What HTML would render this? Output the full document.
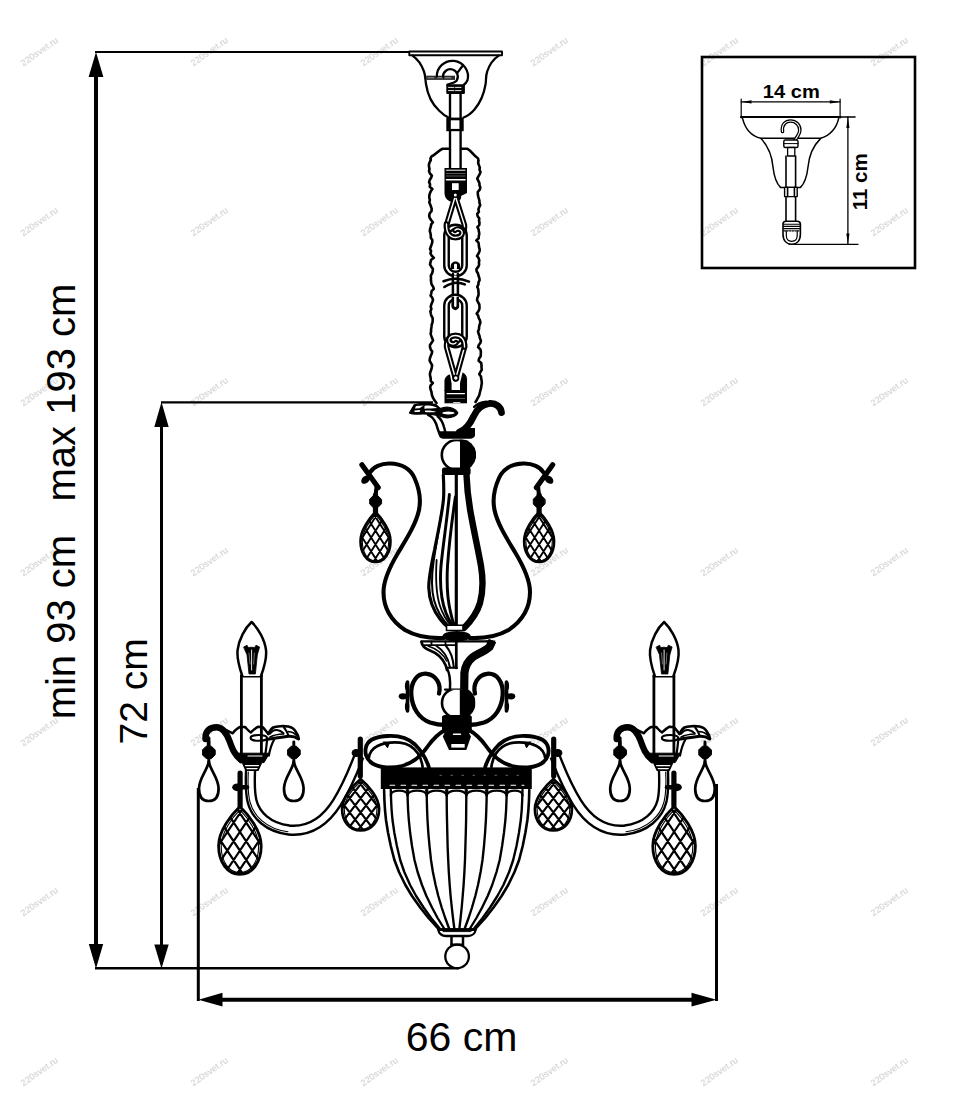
<!DOCTYPE html>
<html><head><meta charset="utf-8">
<style>
html,body{margin:0;padding:0;background:#fff;}
body{width:959px;height:1101px;overflow:hidden;font-family:"Liberation Sans",sans-serif;}
svg{display:block;}
text{font-family:"Liberation Sans",sans-serif;}
</style></head><body>
<svg width="959" height="1101" viewBox="0 0 959 1101">
<rect width="959" height="1101" fill="#fff"/>
<defs>
<g id="wm"><text x="0" y="0" font-size="9" letter-spacing="0.15" fill="#cdcdcd" text-anchor="middle" transform="rotate(-35)">220svet.ru</text></g>
</defs>
<!--WATERMARKS-->
<g id="wms"><use href="#wm" x="41" y="54"/><use href="#wm" x="211" y="54"/><use href="#wm" x="381" y="54"/><use href="#wm" x="551" y="54"/><use href="#wm" x="721" y="54"/><use href="#wm" x="891" y="54"/><use href="#wm" x="41" y="224"/><use href="#wm" x="211" y="224"/><use href="#wm" x="381" y="224"/><use href="#wm" x="551" y="224"/><use href="#wm" x="721" y="224"/><use href="#wm" x="891" y="224"/><use href="#wm" x="41" y="394"/><use href="#wm" x="211" y="394"/><use href="#wm" x="381" y="394"/><use href="#wm" x="551" y="394"/><use href="#wm" x="721" y="394"/><use href="#wm" x="891" y="394"/><use href="#wm" x="41" y="564"/><use href="#wm" x="211" y="564"/><use href="#wm" x="381" y="564"/><use href="#wm" x="551" y="564"/><use href="#wm" x="721" y="564"/><use href="#wm" x="891" y="564"/><use href="#wm" x="41" y="734"/><use href="#wm" x="211" y="734"/><use href="#wm" x="381" y="734"/><use href="#wm" x="551" y="734"/><use href="#wm" x="721" y="734"/><use href="#wm" x="891" y="734"/><use href="#wm" x="41" y="904"/><use href="#wm" x="211" y="904"/><use href="#wm" x="381" y="904"/><use href="#wm" x="551" y="904"/><use href="#wm" x="721" y="904"/><use href="#wm" x="891" y="904"/><use href="#wm" x="41" y="1074"/><use href="#wm" x="211" y="1074"/><use href="#wm" x="381" y="1074"/><use href="#wm" x="551" y="1074"/><use href="#wm" x="721" y="1074"/><use href="#wm" x="891" y="1074"/></g>
<!--DIMENSIONS-->
<g id="dims" stroke="#000" fill="none">
<line x1="95" y1="52" x2="410" y2="52" stroke-width="2.1"/>
<line x1="161" y1="402.3" x2="433" y2="402.3" stroke-width="2.3"/>
<line x1="95" y1="968.3" x2="459" y2="968.3" stroke-width="2.6"/>
<line x1="96" y1="70" x2="96" y2="950" stroke-width="4"/>
<line x1="161.5" y1="420" x2="161.5" y2="950" stroke-width="3"/>
<line x1="198.3" y1="788" x2="198.3" y2="1001" stroke-width="3"/>
<line x1="716.5" y1="784" x2="716.5" y2="1001" stroke-width="3"/>
<line x1="215" y1="999.7" x2="700" y2="999.7" stroke-width="4"/>
<g fill="#000" stroke="none">
<polygon points="96,52 88.6,77 103.4,77"/>
<polygon points="96,968.5 88.8,944 103.2,944"/>
<polygon points="161.5,402 154.3,427 168.7,427"/>
<polygon points="161.5,968.5 154.3,944.5 168.7,944.5"/>
<polygon points="198.5,999.7 222.5,992.8 222.5,1006.6"/>
<polygon points="716.5,999.7 691.5,992.8 691.5,1006.6"/>
</g>
</g>
<g id="labels" fill="#000">
<text x="461.5" y="1050.5" font-size="41" text-anchor="middle">66 cm</text>
<text transform="translate(75,501.5) rotate(-90)" font-size="40" text-anchor="middle" xml:space="preserve">min 93 cm   max 193 cm</text>
<text transform="translate(146.7,691.3) rotate(-90)" font-size="39" text-anchor="middle">72 cm</text>
</g>
<!--INSET-->
<g id="inset" stroke="#000" fill="none" stroke-linecap="round" stroke-linejoin="round">
<rect x="702" y="57" width="213" height="211" stroke-width="2.6" stroke-linejoin="miter"/>
<!-- 14cm dim -->
<line x1="741.2" y1="101.9" x2="840.1" y2="101.9" stroke-width="1.3"/>
<line x1="741.2" y1="99" x2="741.2" y2="118" stroke-width="1.2"/>
<line x1="840.1" y1="99" x2="840.1" y2="118" stroke-width="1.2"/>
<polygon points="741.5,101.9 751.5,100.3 751.5,103.5" fill="#000" stroke="none"/>
<polygon points="839.8,101.9 829.8,100.3 829.8,103.5" fill="#000" stroke="none"/>
<!-- 11cm dim -->
<line x1="820" y1="117" x2="855" y2="117" stroke-width="1.6"/>
<line x1="789" y1="244.3" x2="858" y2="244.3" stroke-width="1.3"/>
<line x1="847.9" y1="117" x2="847.9" y2="244.3" stroke-width="1.3"/>
<polygon points="847.9,117.5 846.3,128 849.5,128" fill="#000" stroke="none"/>
<polygon points="847.9,244 846.3,233.5 849.5,233.5" fill="#000" stroke="none"/>
<!-- canopy -->
<line x1="741" y1="117" x2="840.3" y2="117" stroke-width="2.2"/>
<path d="M742.6,118.6 C745,128 751,136 761,138.3 L820.5,138.3 C830,136 836.5,128 838.6,118.6" stroke-width="1.5"/>
<path d="M761,138.6 C768,146 772,156 773,167 C774,176 776,183 780.5,187.4 L800.5,187.4 C805,183 807,176 808,167 C809,156 813,146 820.5,138.6" stroke-width="1.5"/>
<!-- hook -->
<path d="M782.5,131.5 C781.5,124 786,121 790.5,121 C796,121 799.8,125 799.8,130 C799.8,134 797,137 795,140" stroke-width="3.6"/>
<path d="M782.5,131.5 C781.5,124 786,121 790.5,121 C796,121 799.8,125 799.8,130 C799.8,134 797,137 795,140" stroke="#fff" stroke-width="1.1"/>
<!-- rod -->
<rect x="783.8" y="140" width="14.2" height="7.5" rx="1.5" stroke-width="1.4" fill="#fff"/>
<line x1="783.8" y1="143.6" x2="798" y2="143.6" stroke-width="1"/>
<rect x="787.6" y="147.5" width="7.2" height="8.5" stroke-width="1.3" fill="#fff"/>
<path d="M786,156 L786,222 M795.6,156 L795.6,222" stroke-width="1.6"/>
<rect x="784.6" y="187.4" width="12.6" height="9.2" stroke-width="1.4" fill="#fff"/>
<line x1="787.6" y1="187.4" x2="787.6" y2="196.6" stroke-width="1.6"/>
<line x1="794.4" y1="187.4" x2="794.4" y2="196.6" stroke-width="1.6"/>
<!-- bottom loop -->
<path d="M783,224 C783,222 784,221.3 786,221.3 L797,221.3 C799,221.3 800.4,222 800.4,224 L800.4,234 C800.4,241 796.5,244.3 791.7,244.3 C787,244.3 783,241 783,234 Z" stroke-width="1.6" fill="#fff"/>
<path d="M786.3,231 L786.3,235.5 C786.3,239.5 788.5,241.3 791.7,241.3 C795,241.3 797.2,239.5 797.2,235.5 L797.2,231" stroke-width="1.2"/>
<path d="M783.5,224.2 H800 M783.5,226.4 H800 M783.5,228.6 H800" stroke-width="1.1"/>
<path d="M784,230.8 H800" stroke-width="1.2" stroke-dasharray="1.5 1.2"/>
<g fill="#000" stroke="none" font-weight="bold">
<text x="791.3" y="98" font-size="18" text-anchor="middle" textLength="57" lengthAdjust="spacingAndGlyphs">14 cm</text>
<text transform="translate(867.2,181.8) rotate(-90)" font-size="20.5" text-anchor="middle">11 cm</text>
</g>
</g>
<!--CHANDELIER-->
<g id="ch" stroke="#000" fill="none" stroke-width="2" stroke-linecap="round" stroke-linejoin="round">
<rect x="409.3" y="51.5" width="92.7" height="3.7" rx="0" stroke="#000" stroke-width="1.9" fill="#fff"/>
<path d="M412.5,55.6 C416,58 421,63 424,71.5 C425.6,76 425.3,80 426,84 C427.5,94 432,104 439,110.5 C442,113.5 445,116 448.5,117.5" stroke="#000" stroke-width="2.26" fill="none" />
<path d="M498.8,55.6 C495,58 490,63 487.2,71.5 C485.6,76 486.3,80 485.6,84 C484,94 480,103 474.5,109.5 C471.5,113 468,116 463.5,117.5" stroke="#000" stroke-width="2.26" fill="none" />
<path d="M426.2,77.8 H455" stroke="#2a2a2a" stroke-width="4.2" fill="none" stroke-linecap="butt"/>
<path d="M428,77.8 H452" stroke="#aaa" stroke-width="0.9" fill="none" stroke-dasharray="6 2.5"/>
<path d="M436.8,76.8 A15.6,15.6 0 1 1 467.5,80.3 C466.5,82.6 465,84 463.5,85" stroke="#000" stroke-width="2.26" fill="none" />
<path d="M443,76.8 A7.4,7.4 0 1 1 456.5,80.8 C454,83 450,83.6 447.5,84.6" stroke="#000" stroke-width="2.26" fill="none" />
<path d="M457.5,72.6 L462.5,66" stroke="#000" stroke-width="2.26" fill="none" />
<rect x="446.3" y="84.2" width="18.6" height="9.8" rx="1" stroke="none" stroke-width="0" fill="#000"/>
<path d="M448.5,87.4 H462.5 M448.5,90.6 H462.5" stroke="#fff" stroke-width="0.9" fill="none" stroke-dasharray="5.5 1.5"/>
<path d="M450,93 V168 M460.6,93 V168" stroke="#000" stroke-width="2.37" fill="none" />
<rect x="446.3" y="117.6" width="17.4" height="13.6" rx="0" stroke="none" stroke-width="0" fill="#000"/>
<rect x="450.8" y="120.3" width="8.6" height="8.6" rx="0" stroke="none" stroke-width="0" fill="#fff"/>
<path d="M449,148.8 H442.5 C438.5,150.5 436.5,154 431.5,156.5 C430.3,157.5 430.4,158.5 430.8,160" stroke="#000" stroke-width="2.6" fill="none" />
<path d="M462,148.8 H467.5 C471.5,151 473.5,155.5 477.6,158 C478.6,158.8 478.6,159.6 478.3,161" stroke="#000" stroke-width="2.6" fill="none" />
<path d="M430.8,160.0 L429.7,162.2 L428.9,164.4 L429.0,166.7 L429.5,168.9 L429.0,171.1 L429.9,173.3 L431.9,175.6 L431.1,177.8 L429.7,180.0 L429.1,182.2 L430.1,184.4 L429.7,186.7 L432.4,188.9 L430.9,191.1 L429.9,193.3 L429.3,195.6 L429.3,197.8 L429.9,200.0 L429.3,202.2 L430.2,204.4 L431.0,206.7 L431.7,208.9 L431.5,211.1 L429.7,213.3 L429.2,215.6 L429.6,217.8 L431.1,220.0 L432.9,222.2 L431.2,224.4 L430.8,226.7 L430.1,228.9 L429.8,231.1 L430.5,233.3 L430.8,235.6 L430.8,237.8 L432.3,240.0 L432.3,242.2 L431.6,244.4 L430.8,246.7 L430.0,248.9 L431.1,251.1 L430.4,253.3 L431.7,255.6 L433.9,257.8 L431.0,260.0 L430.6,262.2 L430.0,264.4 L431.4,266.7 L432.9,268.9 L432.7,271.1 L432.1,273.3 L430.8,275.6 L431.0,277.8 L430.9,280.0 L431.2,282.2 L431.6,284.4 L433.1,286.7 L433.8,288.9 L431.6,291.1 L431.3,293.3 L430.6,295.6 L432.3,297.8 L433.0,300.0 L432.2,302.2 L431.3,304.5 L430.7,306.7 L431.4,309.0 L430.4,311.2 L430.8,313.5 L431.3,315.7 L432.6,318.0 L432.7,320.2 L432.5,322.4 L431.7,324.7 L431.5,326.9 L431.1,329.2 L431.1,331.4 L430.6,333.7 L431.3,335.9 L432.1,338.1 L433.1,340.4 L431.7,342.6 L430.0,344.9 L430.0,347.1 L430.7,349.4 L432.2,351.6 L431.6,353.9 L430.7,356.1 L429.9,358.3 L429.6,360.6 L430.8,362.8 L432.1,365.1 L431.8,367.3 L431.3,369.6 L430.4,371.8 L429.9,374.0 L430.2,376.3 L430.7,378.5 L430.7,380.8 L432.8,383.0 L430.6,385.3 L430.2,387.5 L430.7,389.8 L431.5,392.0 C431.5,397 434,400 436.5,403" stroke="#000" stroke-width="2.6" fill="none" />
<path d="M478.3,161.0 L478.2,163.2 L479.0,165.4 L479.8,167.6 L479.5,169.8 L480.5,172.0 L479.7,174.2 L478.4,176.4 L477.2,178.7 L478.4,180.9 L479.4,183.1 L479.5,185.3 L480.3,187.5 L479.8,189.7 L477.8,191.9 L477.8,194.1 L478.2,196.3 L478.8,198.5 L479.4,200.7 L479.5,202.9 L480.2,205.1 L479.1,207.3 L478.4,209.5 L478.9,211.7 L477.2,214.0 L477.7,216.2 L479.3,218.4 L479.0,220.6 L479.5,222.8 L479.3,225.0 L477.4,227.2 L478.6,229.4 L478.9,231.6 L479.3,233.8 L478.8,236.0 L478.7,238.2 L476.3,240.4 L478.5,242.6 L478.8,244.8 L479.0,247.0 L479.7,249.3 L479.5,251.5 L478.4,253.7 L477.0,255.9 L478.6,258.1 L479.3,260.3 L478.9,262.5 L479.1,264.7 L478.2,266.9 L476.5,269.1 L476.6,271.3 L478.0,273.5 L478.5,275.7 L479.3,277.9 L479.6,280.1 L478.5,282.3 L478.4,284.6 L477.2,286.8 L478.2,289.0 L478.4,291.2 L478.6,293.4 L478.4,295.6 L477.5,297.8 L477.0,300.0 L478.0,302.2 L479.3,304.5 L479.5,306.8 L479.4,309.0 L478.4,311.2 L476.7,313.5 L478.2,315.8 L478.7,318.0 L479.9,320.2 L480.4,322.5 L479.6,324.8 L479.1,327.0 L479.0,329.2 L478.0,331.5 L478.7,333.8 L479.5,336.0 L479.9,338.2 L480.9,340.5 L480.5,342.8 L478.8,345.0 L478.1,347.2 L480.4,349.5 L480.9,351.8 L480.8,354.0 L480.7,356.2 L479.1,358.5 L478.6,360.8 L481.2,363.0 L481.5,365.2 L481.5,367.5 L481.8,369.8 L480.4,372.0 L479.3,374.2 L481.0,376.5 L481.2,378.8 L481.7,381.0 L481.8,383.2 L481.4,385.5 L481.1,387.8 L480.5,390.0 C480,396 477.5,399 475.5,402" stroke="#000" stroke-width="2.6" fill="none" />
<rect x="444.5" y="168" width="22.5" height="14" rx="0" stroke="none" stroke-width="0" fill="#000"/>
<path d="M446.5,170.2 H465" stroke="#fff" stroke-width="1" fill="none" />
<path d="M446.5,173.5 H465 M446.5,176 H465" stroke="#777" stroke-width="0.7" fill="none" />
<path d="M446.5,179.8 H465" stroke="#fff" stroke-width="1.6" fill="none" />
<path d="M444.5,182 V193 C444.5,199 449,202 454,202 C459,202 462,199 461,196 L467,193 V182 Z" stroke="none" stroke-width="0" fill="#000" />
<rect x="452" y="183.2" width="6.7" height="6.8" rx="0" stroke="none" stroke-width="0" fill="#fff"/>
<path d="M455.3,196 L446.6,225 C446,233 450,237.5 455.5,237.5 C461,237.5 465,233 464.4,225 Z" stroke="#000" stroke-width="5.6" fill="none" stroke-linejoin="round"/>
<path d="M455.3,196 L446.6,225 C446,233 450,237.5 455.5,237.5 C461,237.5 465,233 464.4,225 Z" stroke="#fff" stroke-width="1.4" fill="none" />
<circle cx="455.3" cy="195" r="2.2" stroke="#000" stroke-width="1.4" fill="#fff"/>
<path d="M446.5,235.5 A9.0,8.5 0 0 1 464.5,235.5 V265.5 A9.0,8.5 0 0 1 446.5,265.5 Z" stroke="#000" stroke-width="6.9" fill="none" />
<path d="M446.5,235.5 A9.0,8.5 0 0 1 464.5,235.5 V265.5 A9.0,8.5 0 0 1 446.5,265.5 Z" stroke="#fff" stroke-width="2.1" fill="none" />
<path d="M446.5,224 C446.2,233 450,237.5 455.5,237.5 C460.5,237.5 463,234.5 462,231.5 C461,228.8 457,228.3 455,230.2" stroke="#000" stroke-width="5.6" fill="none" />
<path d="M446.5,224 C446.2,233 450,237.5 455.5,237.5 C460.5,237.5 463,234.5 462,231.5 C461,228.8 457,228.3 455,230.2" stroke="#fff" stroke-width="1.4" fill="none" />
<path d="M450.8,269 V266 C450.8,260 460.2,260 460.2,266 V269 Z" stroke="none" stroke-width="0" fill="#000" />
<rect x="454" y="263.8" width="3" height="5.4" rx="1.2" stroke="none" stroke-width="0" fill="#fff"/>
<path d="M452.9,274 V307 M457.9,274 V307" stroke="#000" stroke-width="2.49" fill="none" />
<rect x="454" y="275.6" width="2.6" height="2" rx="0" stroke="none" stroke-width="0" fill="#fff"/>
<path d="M443.5,281.2 Q456,276 469,281.6" stroke="#000" stroke-width="2.6" fill="none" />
<path d="M444.4,287 Q455,280 464.8,284.4" stroke="#000" stroke-width="2.6" fill="none" />
<path d="M446.5,305.5 A9.0,8.5 0 0 1 464.5,305.5 V336.5 A9.0,8.5 0 0 1 446.5,336.5 Z" stroke="#000" stroke-width="6.9" fill="none" />
<path d="M446.5,305.5 A9.0,8.5 0 0 1 464.5,305.5 V336.5 A9.0,8.5 0 0 1 446.5,336.5 Z" stroke="#fff" stroke-width="2.1" fill="none" />
<path d="M451.6,297 V306 C451.6,311.5 459,311.5 459,306 V297" stroke="none" stroke-width="0" fill="#000" />
<rect x="454.1" y="296" width="2.4" height="11" rx="1.2" stroke="none" stroke-width="0" fill="#fff"/>
<path d="M455.6,379 L446.6,347 C446,339.5 450,335.5 455.5,335.5 C461,335.5 465,339.5 464.5,347 Z" stroke="#000" stroke-width="5.6" fill="none" stroke-linejoin="round"/>
<path d="M455.6,379 L446.6,347 C446,339.5 450,335.5 455.5,335.5 C461,335.5 465,339.5 464.5,347 Z" stroke="#fff" stroke-width="1.4" fill="none" />
<path d="M464.5,347 C464.8,339.5 461,335.5 455.5,335.5 C450.5,335.5 448,338.5 449,341.5 C450,344.2 454,344.7 456,342.8" stroke="#000" stroke-width="5.6" fill="none" />
<path d="M464.5,347 C464.8,339.5 461,335.5 455.5,335.5 C450.5,335.5 448,338.5 449,341.5 C450,344.2 454,344.7 456,342.8" stroke="#fff" stroke-width="1.4" fill="none" />
<circle cx="455.8" cy="378" r="2.6" stroke="#000" stroke-width="1.8" fill="#fff"/>
<path d="M444.5,390 V380 L449,374 M467,390 V378 L463,372" stroke="#000" stroke-width="0.1" fill="none" />
<path d="M444.5,391 V381 C444.5,378 447,375 450,374.5 L451.5,383 H460 L462.5,372.5 C465,373.5 467,376 467,379 V391 Z" stroke="none" stroke-width="0" fill="#000" />
<rect x="451.6" y="383" width="8.4" height="7.5" rx="0" stroke="none" stroke-width="0" fill="#fff"/>
<rect x="444.5" y="390" width="22.5" height="13.3" rx="0" stroke="none" stroke-width="0" fill="#000"/>
<path d="M447,393.6 H464.5" stroke="#fff" stroke-width="1.1" fill="none" />
<path d="M447,398.5 H464.5" stroke="#777" stroke-width="0.7" fill="none" />
<path d="M453.5,402.6 H460" stroke="#fff" stroke-width="0.9" fill="none" />
<path d="M375.5,495 V513" stroke="#000" stroke-width="5.2" fill="none" />
<polygon points="381.3,504.0 377.9,507.4 373.1,507.4 369.7,504.0 369.7,499.2 373.1,495.8 377.9,495.8 381.3,499.2" fill="#000" stroke="#000" stroke-width="1" stroke-linejoin="round"/>
<clipPath id="fd1"><path d="M375.5,512.0 C381.5,518.0 390.5,530.0 390.5,541.0 C390.5,553.0 384.5,562.0 375.5,562.0 C366.5,562.0 360.5,553.0 360.5,541.0 C360.5,530.0 369.5,518.0 375.5,512.0 Z"/></clipPath>
<path d="M375.5,512.0 C381.5,518.0 390.5,530.0 390.5,541.0 C390.5,553.0 384.5,562.0 375.5,562.0 C366.5,562.0 360.5,553.0 360.5,541.0 C360.5,530.0 369.5,518.0 375.5,512.0 Z" stroke="none" stroke-width="0" fill="#fff" />
<g clip-path="url(#fd1)"><path d="M310.6,512.0 L342.5,562.0 M334.6,512.0 L302.6,562.0 M319.4,512.0 L351.4,562.0 M343.4,512.0 L311.4,562.0 M328.2,512.0 L360.2,562.0 M352.2,512.0 L320.2,562.0 M337.0,512.0 L369.0,562.0 M361.0,512.0 L329.0,562.0 M345.9,512.0 L377.8,562.0 M369.8,512.0 L337.9,562.0 M354.7,512.0 L386.7,562.0 M378.7,512.0 L346.7,562.0 M363.5,512.0 L395.5,562.0 M387.5,512.0 L355.5,562.0 M372.3,512.0 L404.3,562.0 M396.3,512.0 L364.3,562.0 M381.2,512.0 L413.1,562.0 M405.1,512.0 L373.2,562.0 M390.0,512.0 L422.0,562.0 M414.0,512.0 L382.0,562.0 M398.8,512.0 L430.8,562.0 M422.8,512.0 L390.8,562.0 M407.6,512.0 L439.6,562.0 M431.6,512.0 L399.6,562.0 M416.4,512.0 L448.4,562.0 M440.4,512.0 L408.5,562.0" stroke="#000" stroke-width="1.9" fill="none"/><path d="M375.5,514.5 C380.8,520.0 388.7,531.1 388.7,541.3 C388.7,552.4 383.4,560.8 375.5,560.8 C367.6,560.8 362.3,552.4 362.3,541.3 C362.3,531.1 370.2,520.0 375.5,514.5 Z" stroke="#000" stroke-width="1.1" fill="none"/></g>
<path d="M375.5,512.0 C381.5,518.0 390.5,530.0 390.5,541.0 C390.5,553.0 384.5,562.0 375.5,562.0 C366.5,562.0 360.5,553.0 360.5,541.0 C360.5,530.0 369.5,518.0 375.5,512.0 Z" stroke="#000" stroke-width="2.6" fill="none" />
<path d="M539.1,495 V513" stroke="#000" stroke-width="5.2" fill="none" />
<polygon points="544.9,504.0 541.5,507.4 536.7,507.4 533.3,504.0 533.3,499.2 536.7,495.8 541.5,495.8 544.9,499.2" fill="#000" stroke="#000" stroke-width="1" stroke-linejoin="round"/>
<clipPath id="fd2"><path d="M539.1,512.0 C545.1,518.0 554.1,530.0 554.1,541.0 C554.1,553.0 548.1,562.0 539.1,562.0 C530.1,562.0 524.1,553.0 524.1,541.0 C524.1,530.0 533.1,518.0 539.1,512.0 Z"/></clipPath>
<path d="M539.1,512.0 C545.1,518.0 554.1,530.0 554.1,541.0 C554.1,553.0 548.1,562.0 539.1,562.0 C530.1,562.0 524.1,553.0 524.1,541.0 C524.1,530.0 533.1,518.0 539.1,512.0 Z" stroke="none" stroke-width="0" fill="#fff" />
<g clip-path="url(#fd2)"><path d="M474.2,512.0 L506.1,562.0 M498.2,512.0 L466.2,562.0 M483.0,512.0 L515.0,562.0 M507.0,512.0 L475.0,562.0 M491.8,512.0 L523.8,562.0 M515.8,512.0 L483.8,562.0 M500.6,512.0 L532.6,562.0 M524.6,512.0 L492.6,562.0 M509.5,512.0 L541.4,562.0 M533.4,512.0 L501.5,562.0 M518.3,512.0 L550.3,562.0 M542.3,512.0 L510.3,562.0 M527.1,512.0 L559.1,562.0 M551.1,512.0 L519.1,562.0 M535.9,512.0 L567.9,562.0 M559.9,512.0 L527.9,562.0 M544.8,512.0 L576.7,562.0 M568.7,512.0 L536.8,562.0 M553.6,512.0 L585.6,562.0 M577.6,512.0 L545.6,562.0 M562.4,512.0 L594.4,562.0 M586.4,512.0 L554.4,562.0 M571.2,512.0 L603.2,562.0 M595.2,512.0 L563.2,562.0 M580.0,512.0 L612.0,562.0 M604.0,512.0 L572.1,562.0" stroke="#000" stroke-width="1.9" fill="none"/><path d="M539.1,514.5 C544.4,520.0 552.3,531.1 552.3,541.3 C552.3,552.4 547.0,560.8 539.1,560.8 C531.2,560.8 525.9,552.4 525.9,541.3 C525.9,531.1 533.8,520.0 539.1,514.5 Z" stroke="#000" stroke-width="1.1" fill="none"/></g>
<path d="M539.1,512.0 C545.1,518.0 554.1,530.0 554.1,541.0 C554.1,553.0 548.1,562.0 539.1,562.0 C530.1,562.0 524.1,553.0 524.1,541.0 C524.1,530.0 533.1,518.0 539.1,512.0 Z" stroke="#000" stroke-width="2.6" fill="none" />
<path d="M 445.0,730 C 438.0,734 433.0,739 428.0,746 C 422.0,755 413.0,763 402.0,766 C 392.0,768.5 380.0,768 372.5,763.5 C 366.0,759.5 364.0,752 366.5,745.5 C 369.0,739.5 377.0,736.5 388.0,736 C 398.0,735.5 408.0,738 415.0,744.5 C 421.0,750.5 426.0,758 428.8,767" stroke="#000" stroke-width="3.84" fill="none" />
<path d="M 368.8,758 C 369.5,752.5 372.5,748.5 377.5,746 C 384.0,742.8 393.0,742 400.0,742.6 C 408.0,743.5 414.0,747.5 418.0,753.5 C 420.5,757.5 422.0,762 422.6,767" stroke="#000" stroke-width="2.71" fill="none" />
<path d="M 383.5,742.2 L 387.5,747.8 L 389.5,742.8 Z" stroke="#000" stroke-width="1" fill="#000" />
<path d="M 469.0,730 C 476.0,734 481.0,739 486.0,746 C 492.0,755 501.0,763 512.0,766 C 522.0,768.5 534.0,768 541.5,763.5 C 548.0,759.5 550.0,752 547.5,745.5 C 545.0,739.5 537.0,736.5 526.0,736 C 516.0,735.5 506.0,738 499.0,744.5 C 493.0,750.5 488.0,758 485.2,767" stroke="#000" stroke-width="3.84" fill="none" />
<path d="M 545.2,758 C 544.5,752.5 541.5,748.5 536.5,746 C 530.0,742.8 521.0,742 514.0,742.6 C 506.0,743.5 500.0,747.5 496.0,753.5 C 493.5,757.5 492.0,762 491.4,767" stroke="#000" stroke-width="2.71" fill="none" />
<path d="M 530.5,742.2 L 526.5,747.8 L 524.5,742.8 Z" stroke="#000" stroke-width="1" fill="#000" />
<path d="M 250.6,769 C 250.2,780 249.5,790 252.0,801 C 255.5,815 268.0,827.5 289.0,830 C 310.0,832 326.0,820 337.0,802.5 C 346.0,788 352.5,773 359.0,756" stroke="#000" stroke-width="11.4" fill="none" stroke-linecap="butt"/>
<path d="M 250.6,769 C 250.2,780 249.5,790 252.0,801 C 255.5,815 268.0,827.5 289.0,830 C 310.0,832 326.0,820 337.0,802.5 C 346.0,788 352.5,773 359.0,756" stroke="#fff" stroke-width="6.6" fill="none" stroke-linecap="butt"/>
<path d="M 248.3,772 C 247.8,782 247.5,792 250.0,802 C 253.5,815.5 266.0,829 288.0,831.8" stroke="#000" stroke-width="1.1" fill="none" />
<path d="M 240.1,773 V 806" stroke="#000" stroke-width="5.2" fill="none" />
<ellipse cx="237.4" cy="787.3" rx="5.2" ry="3.9" stroke="none" stroke-width="0" fill="#000" />
<path d="M 236.9,787.3 H 247.0" stroke="#000" stroke-width="4.52" fill="none" />
<polygon points="243.2,812.9 241.3,814.8 238.5,814.8 236.6,812.9 236.6,810.1 238.5,808.2 241.3,808.2 243.2,810.1" fill="#000" stroke="#000" stroke-width="1" stroke-linejoin="round"/>
<clipPath id="fd3"><path d="M239.9,806.5 C248.4,814.6 261.2,830.9 261.2,845.8 C261.2,862.1 252.7,874.3 239.9,874.3 C227.1,874.3 218.6,862.1 218.6,845.8 C218.6,830.9 231.4,814.6 239.9,806.5 Z"/></clipPath>
<path d="M239.9,806.5 C248.4,814.6 261.2,830.9 261.2,845.8 C261.2,862.1 252.7,874.3 239.9,874.3 C227.1,874.3 218.6,862.1 218.6,845.8 C218.6,830.9 231.4,814.6 239.9,806.5 Z" stroke="none" stroke-width="0" fill="#fff" />
<g clip-path="url(#fd3)"><path d="M147.7,806.5 L193.1,874.3 M181.8,806.5 L136.3,874.3 M160.2,806.5 L205.6,874.3 M194.3,806.5 L148.9,874.3 M172.8,806.5 L218.2,874.3 M206.8,806.5 L161.4,874.3 M185.3,806.5 L230.7,874.3 M219.3,806.5 L173.9,874.3 M197.8,806.5 L243.2,874.3 M231.9,806.5 L186.5,874.3 M210.3,806.5 L255.8,874.3 M244.4,806.5 L199.0,874.3 M222.9,806.5 L268.3,874.3 M256.9,806.5 L211.5,874.3 M235.4,806.5 L280.8,874.3 M269.5,806.5 L224.0,874.3 M247.9,806.5 L293.3,874.3 M282.0,806.5 L236.6,874.3 M260.5,806.5 L305.9,874.3 M294.5,806.5 L249.1,874.3 M273.0,806.5 L318.4,874.3 M307.0,806.5 L261.6,874.3 M285.5,806.5 L330.9,874.3 M319.6,806.5 L274.2,874.3 M298.0,806.5 L343.5,874.3 M332.1,806.5 L286.7,874.3" stroke="#000" stroke-width="2.2" fill="none"/><path d="M239.9,809.9 C247.4,817.4 258.6,832.5 258.6,846.3 C258.6,861.3 251.1,872.6 239.9,872.6 C228.7,872.6 221.2,861.3 221.2,846.3 C221.2,832.5 232.4,817.4 239.9,809.9 Z" stroke="#000" stroke-width="1.1" fill="none"/></g>
<path d="M239.9,806.5 C248.4,814.6 261.2,830.9 261.2,845.8 C261.2,862.1 252.7,874.3 239.9,874.3 C227.1,874.3 218.6,862.1 218.6,845.8 C218.6,830.9 231.4,814.6 239.9,806.5 Z" stroke="#000" stroke-width="2.82" fill="none" />
<path d="M 360.3,739 V 776" stroke="#000" stroke-width="5.2" fill="none" />
<ellipse cx="356.2" cy="753" rx="4.6" ry="4" stroke="none" stroke-width="0" fill="#000" />
<clipPath id="fd4"><path d="M360.6,779.0 C368.0,785.2 379.1,797.5 379.1,808.9 C379.1,821.2 371.7,830.5 360.6,830.5 C349.5,830.5 342.1,821.2 342.1,808.9 C342.1,797.5 353.2,785.2 360.6,779.0 Z"/></clipPath>
<path d="M360.6,779.0 C368.0,785.2 379.1,797.5 379.1,808.9 C379.1,821.2 371.7,830.5 360.6,830.5 C349.5,830.5 342.1,821.2 342.1,808.9 C342.1,797.5 353.2,785.2 360.6,779.0 Z" stroke="none" stroke-width="0" fill="#fff" />
<g clip-path="url(#fd4)"><path d="M280.5,779.0 L320.0,830.5 M310.1,779.0 L270.7,830.5 M291.4,779.0 L330.8,830.5 M321.0,779.0 L281.5,830.5 M302.3,779.0 L341.7,830.5 M331.9,779.0 L292.4,830.5 M313.2,779.0 L352.6,830.5 M342.7,779.0 L303.3,830.5 M324.0,779.0 L363.5,830.5 M353.6,779.0 L314.2,830.5 M334.9,779.0 L374.4,830.5 M364.5,779.0 L325.1,830.5 M345.8,779.0 L385.3,830.5 M375.4,779.0 L335.9,830.5 M356.7,779.0 L396.1,830.5 M386.3,779.0 L346.8,830.5 M367.6,779.0 L407.0,830.5 M397.2,779.0 L357.7,830.5 M378.5,779.0 L417.9,830.5 M408.0,779.0 L368.6,830.5 M389.3,779.0 L428.8,830.5 M418.9,779.0 L379.5,830.5 M400.2,779.0 L439.7,830.5 M429.8,779.0 L390.4,830.5 M411.1,779.0 L450.5,830.5 M440.7,779.0 L401.2,830.5" stroke="#000" stroke-width="2.1" fill="none"/><path d="M360.6,781.6 C367.1,787.3 376.9,798.7 376.9,809.2 C376.9,820.6 370.4,829.2 360.6,829.2 C350.8,829.2 344.3,820.6 344.3,809.2 C344.3,798.7 354.1,787.3 360.6,781.6 Z" stroke="#000" stroke-width="1.1" fill="none"/></g>
<path d="M360.6,779.0 C368.0,785.2 379.1,797.5 379.1,808.9 C379.1,821.2 371.7,830.5 360.6,830.5 C349.5,830.5 342.1,821.2 342.1,808.9 C342.1,797.5 353.2,785.2 360.6,779.0 Z" stroke="#000" stroke-width="2.71" fill="none" />
<path d="M 663.4,769 C 663.8,780 664.5,790 662.0,801 C 658.5,815 646.0,827.5 625.0,830 C 604.0,832 588.0,820 577.0,802.5 C 568.0,788 561.5,773 555.0,756" stroke="#000" stroke-width="11.4" fill="none" stroke-linecap="butt"/>
<path d="M 663.4,769 C 663.8,780 664.5,790 662.0,801 C 658.5,815 646.0,827.5 625.0,830 C 604.0,832 588.0,820 577.0,802.5 C 568.0,788 561.5,773 555.0,756" stroke="#fff" stroke-width="6.6" fill="none" stroke-linecap="butt"/>
<path d="M 665.7,772 C 666.2,782 666.5,792 664.0,802 C 660.5,815.5 648.0,829 626.0,831.8" stroke="#000" stroke-width="1.1" fill="none" />
<path d="M 673.9,773 V 806" stroke="#000" stroke-width="5.2" fill="none" />
<ellipse cx="676.6" cy="787.3" rx="5.2" ry="3.9" stroke="none" stroke-width="0" fill="#000" />
<path d="M 677.1,787.3 H 667.0" stroke="#000" stroke-width="4.52" fill="none" />
<polygon points="677.4,812.9 675.5,814.8 672.7,814.8 670.8,812.9 670.8,810.1 672.7,808.2 675.5,808.2 677.4,810.1" fill="#000" stroke="#000" stroke-width="1" stroke-linejoin="round"/>
<clipPath id="fd5"><path d="M674.1,806.5 C682.6,814.6 695.4,830.9 695.4,845.8 C695.4,862.1 686.9,874.3 674.1,874.3 C661.3,874.3 652.8,862.1 652.8,845.8 C652.8,830.9 665.6,814.6 674.1,806.5 Z"/></clipPath>
<path d="M674.1,806.5 C682.6,814.6 695.4,830.9 695.4,845.8 C695.4,862.1 686.9,874.3 674.1,874.3 C661.3,874.3 652.8,862.1 652.8,845.8 C652.8,830.9 665.6,814.6 674.1,806.5 Z" stroke="none" stroke-width="0" fill="#fff" />
<g clip-path="url(#fd5)"><path d="M581.9,806.5 L627.3,874.3 M616.0,806.5 L570.5,874.3 M594.4,806.5 L639.8,874.3 M628.5,806.5 L583.1,874.3 M607.0,806.5 L652.4,874.3 M641.0,806.5 L595.6,874.3 M619.5,806.5 L664.9,874.3 M653.5,806.5 L608.1,874.3 M632.0,806.5 L677.4,874.3 M666.1,806.5 L620.7,874.3 M644.5,806.5 L690.0,874.3 M678.6,806.5 L633.2,874.3 M657.1,806.5 L702.5,874.3 M691.1,806.5 L645.7,874.3 M669.6,806.5 L715.0,874.3 M703.7,806.5 L658.2,874.3 M682.1,806.5 L727.5,874.3 M716.2,806.5 L670.8,874.3 M694.7,806.5 L740.1,874.3 M728.7,806.5 L683.3,874.3 M707.2,806.5 L752.6,874.3 M741.2,806.5 L695.8,874.3 M719.7,806.5 L765.1,874.3 M753.8,806.5 L708.4,874.3 M732.2,806.5 L777.7,874.3 M766.3,806.5 L720.9,874.3" stroke="#000" stroke-width="2.2" fill="none"/><path d="M674.1,809.9 C681.6,817.4 692.8,832.5 692.8,846.3 C692.8,861.3 685.3,872.6 674.1,872.6 C662.9,872.6 655.4,861.3 655.4,846.3 C655.4,832.5 666.6,817.4 674.1,809.9 Z" stroke="#000" stroke-width="1.1" fill="none"/></g>
<path d="M674.1,806.5 C682.6,814.6 695.4,830.9 695.4,845.8 C695.4,862.1 686.9,874.3 674.1,874.3 C661.3,874.3 652.8,862.1 652.8,845.8 C652.8,830.9 665.6,814.6 674.1,806.5 Z" stroke="#000" stroke-width="2.82" fill="none" />
<path d="M 553.7,739 V 776" stroke="#000" stroke-width="5.2" fill="none" />
<ellipse cx="557.8" cy="753" rx="4.6" ry="4" stroke="none" stroke-width="0" fill="#000" />
<clipPath id="fd6"><path d="M553.4,779.0 C560.8,785.2 571.9,797.5 571.9,808.9 C571.9,821.2 564.5,830.5 553.4,830.5 C542.3,830.5 534.9,821.2 534.9,808.9 C534.9,797.5 546.0,785.2 553.4,779.0 Z"/></clipPath>
<path d="M553.4,779.0 C560.8,785.2 571.9,797.5 571.9,808.9 C571.9,821.2 564.5,830.5 553.4,830.5 C542.3,830.5 534.9,821.2 534.9,808.9 C534.9,797.5 546.0,785.2 553.4,779.0 Z" stroke="none" stroke-width="0" fill="#fff" />
<g clip-path="url(#fd6)"><path d="M473.3,779.0 L512.8,830.5 M502.9,779.0 L463.5,830.5 M484.2,779.0 L523.6,830.5 M513.8,779.0 L474.3,830.5 M495.1,779.0 L534.5,830.5 M524.7,779.0 L485.2,830.5 M506.0,779.0 L545.4,830.5 M535.5,779.0 L496.1,830.5 M516.8,779.0 L556.3,830.5 M546.4,779.0 L507.0,830.5 M527.7,779.0 L567.2,830.5 M557.3,779.0 L517.9,830.5 M538.6,779.0 L578.1,830.5 M568.2,779.0 L528.7,830.5 M549.5,779.0 L588.9,830.5 M579.1,779.0 L539.6,830.5 M560.4,779.0 L599.8,830.5 M590.0,779.0 L550.5,830.5 M571.3,779.0 L610.7,830.5 M600.8,779.0 L561.4,830.5 M582.1,779.0 L621.6,830.5 M611.7,779.0 L572.3,830.5 M593.0,779.0 L632.5,830.5 M622.6,779.0 L583.2,830.5 M603.9,779.0 L643.3,830.5 M633.5,779.0 L594.0,830.5" stroke="#000" stroke-width="2.1" fill="none"/><path d="M553.4,781.6 C559.9,787.3 569.7,798.7 569.7,809.2 C569.7,820.6 563.2,829.2 553.4,829.2 C543.6,829.2 537.1,820.6 537.1,809.2 C537.1,798.7 546.9,787.3 553.4,781.6 Z" stroke="#000" stroke-width="1.1" fill="none"/></g>
<path d="M553.4,779.0 C560.8,785.2 571.9,797.5 571.9,808.9 C571.9,821.2 564.5,830.5 553.4,830.5 C542.3,830.5 534.9,821.2 534.9,808.9 C534.9,797.5 546.0,785.2 553.4,779.0 Z" stroke="#000" stroke-width="2.71" fill="none" />
<path d="M 241.4,676 V 756 M 261.4,676 V 756" stroke="#000" stroke-width="2.82" fill="none" />
<path d="M 241.4,676 H 261.4" stroke="#000" stroke-width="2.82" fill="none" />
<path d="M 242.3,676 C 238.5,665 236.8,657 237.6,650 C 238.8,639.5 245.0,628 251.6,622 C 258.0,628 264.8,639.5 266.0,650 C 266.8,657 265.0,665 261.0,676" stroke="#000" stroke-width="2.49" fill="#fff" />
<path d="M 243.8,647 L 247.0,645.2 L 248.2,647.6 L 251.5,647.2 L 254.6,647.6 L 256.0,645.2 L 259.6,647 L 257.3,655 L 255.4,674 H 249.0 L 247.0,655 Z" stroke="#000" stroke-width="0.8" fill="#000" />
<path d="M 251.6,650 V 670" stroke="#fff" stroke-width="0.9" fill="none" />
<path d="M 249.0,653 L 250.0,664 M 254.4,653 L 253.6,664" stroke="#bbb" stroke-width="0.6" fill="none" />
<path d="M 222.5,728 C 225.0,730 229.5,731.5 232.5,733.3 C 235.0,730.5 237.5,727.8 240.0,727 L 245.0,727 C 247.0,729 249.0,731.5 250.8,732.5 C 253.5,730 256.0,727.5 258.3,726.7 L 263.0,727.3 C 265.0,729.5 266.5,732 268.3,734" stroke="#000" stroke-width="2.49" fill="none" />
<ellipse cx="258.8" cy="737.9" rx="8.2" ry="2.9" stroke="#000" stroke-width="2.1" fill="none" />
<path d="M 268.3,734 C 270.0,730.5 271.5,728.5 273.3,727.5 C 276.0,726.2 284.0,725.7 288.3,726.6 C 292.0,727.4 294.5,729.5 295.8,731.7 C 297.5,734 298.5,736 298.7,738.7" stroke="#000" stroke-width="2.6" fill="none" />
<path d="M 267.5,739.2 C 273.0,738.5 280.0,737.5 288.3,736.3 C 292.0,736 296.0,737.2 298.5,738.8" stroke="#000" stroke-width="3.16" fill="none" />
<path d="M 270.0,733.8 C 272.0,731 275.0,729.8 277.0,730 C 280.0,730.3 282.0,731.8 283.5,733.3" stroke="#000" stroke-width="1.92" fill="none" />
<path d="M 284.0,727.5 C 286.0,730 287.8,733.5 288.5,735.8" stroke="#000" stroke-width="2.03" fill="none" />
<path d="M 270.0,737 C 274.0,735 278.0,734.2 283.5,734" stroke="#000" stroke-width="1.69" fill="none" />
<path d="M 288.5,731.6 C 291.5,731.8 294.5,733 296.8,735.6" stroke="#000" stroke-width="1.69" fill="none" />
<path d="M 267.0,740.5 C 266.5,746 266.0,751 264.8,756.5" stroke="#000" stroke-width="2.26" fill="none" />
<path d="M 274.2,739.5 C 271.5,744 270.0,749.5 268.8,755.5" stroke="#000" stroke-width="2.26" fill="none" />
<path d="M 205.5,739 C 205.0,731 210.0,727.3 216.5,727.3 C 223.0,727.3 226.5,733 229.5,741 C 232.0,748 234.5,755 241.0,760" stroke="#000" stroke-width="6.4" fill="none" />
<path d="M 208.6,738 V 747" stroke="#000" stroke-width="3.62" fill="none" />
<path d="M 233.0,753.2 H 269.5 L 264.0,762.6 H 240.5 Z" stroke="#000" stroke-width="1" fill="#000" />
<path d="M 248.0,756 H 262.0" stroke="#fff" stroke-width="1.2" fill="none" />
<path d="M 243.0,763 L 246.2,770 H 257.8 L 261.0,763 Z" stroke="#000" stroke-width="2.03" fill="#000" />
<path d="M 245.5,765.6 H 258.5" stroke="#fff" stroke-width="1.3" fill="none" />
<path d="M 247.0,768.6 H 257.0" stroke="#fff" stroke-width="1.3" fill="none" />
<path d="M 208.8,742 V 764" stroke="#000" stroke-width="2.94" fill="none" />
<polygon points="215.0,755.0 211.4,758.6 206.2,758.6 202.6,755.0 202.6,749.8 206.2,746.2 211.4,746.2 215.0,749.8" fill="#000" stroke="#000" stroke-width="1" stroke-linejoin="round"/>
<path d="M208.8,761.5 C209.8,769.4 218.6,778.1 218.6,788.4 C218.6,798.2 214.1,801.0 208.8,801.0 C203.5,801.0 199.0,798.2 199.0,788.4 C199.0,778.1 207.8,769.4 208.8,761.5 Z" stroke="#000" stroke-width="2.71" fill="#fff" />
<path d="M 293.8,742 V 764" stroke="#000" stroke-width="2.94" fill="none" />
<polygon points="300.0,755.0 296.4,758.6 291.2,758.6 287.6,755.0 287.6,749.8 291.2,746.2 296.4,746.2 300.0,749.8" fill="#000" stroke="#000" stroke-width="1" stroke-linejoin="round"/>
<path d="M293.8,761.5 C294.8,769.4 303.6,778.1 303.6,788.4 C303.6,798.2 299.1,801.0 293.8,801.0 C288.5,801.0 284.0,798.2 284.0,788.4 C284.0,778.1 292.8,769.4 293.8,761.5 Z" stroke="#000" stroke-width="2.71" fill="#fff" />
<path d="M 653.9,676 V 756 M 673.9,676 V 756" stroke="#000" stroke-width="2.82" fill="none" />
<path d="M 653.9,676 H 673.9" stroke="#000" stroke-width="2.82" fill="none" />
<path d="M 654.8,676 C 651.0,665 649.3,657 650.1,650 C 651.3,639.5 657.5,628 664.1,622 C 670.5,628 677.3,639.5 678.5,650 C 679.3,657 677.5,665 673.5,676" stroke="#000" stroke-width="2.49" fill="#fff" />
<path d="M 656.3,647 L 659.5,645.2 L 660.7,647.6 L 664.0,647.2 L 667.1,647.6 L 668.5,645.2 L 672.1,647 L 669.8,655 L 667.9,674 H 661.5 L 659.5,655 Z" stroke="#000" stroke-width="0.8" fill="#000" />
<path d="M 664.1,650 V 670" stroke="#fff" stroke-width="0.9" fill="none" />
<path d="M 661.5,653 L 662.5,664 M 666.9,653 L 666.1,664" stroke="#bbb" stroke-width="0.6" fill="none" />
<path d="M 633.7,728 C 636.2,730 640.7,731.5 643.7,733.3 C 646.2,730.5 648.7,727.8 651.2,727 L 656.2,727 C 658.2,729 660.2,731.5 662.0,732.5 C 664.7,730 667.2,727.5 669.5,726.7 L 674.2,727.3 C 676.2,729.5 677.7,732 679.5,734" stroke="#000" stroke-width="2.49" fill="none" />
<ellipse cx="670.0" cy="737.9" rx="8.2" ry="2.9" stroke="#000" stroke-width="2.1" fill="none" />
<path d="M 679.5,734 C 681.2,730.5 682.7,728.5 684.5,727.5 C 687.2,726.2 695.2,725.7 699.5,726.6 C 703.2,727.4 705.7,729.5 707.0,731.7 C 708.7,734 709.7,736 709.9,738.7" stroke="#000" stroke-width="2.6" fill="none" />
<path d="M 678.7,739.2 C 684.2,738.5 691.2,737.5 699.5,736.3 C 703.2,736 707.2,737.2 709.7,738.8" stroke="#000" stroke-width="3.16" fill="none" />
<path d="M 681.2,733.8 C 683.2,731 686.2,729.8 688.2,730 C 691.2,730.3 693.2,731.8 694.7,733.3" stroke="#000" stroke-width="1.92" fill="none" />
<path d="M 695.2,727.5 C 697.2,730 699.0,733.5 699.7,735.8" stroke="#000" stroke-width="2.03" fill="none" />
<path d="M 681.2,737 C 685.2,735 689.2,734.2 694.7,734" stroke="#000" stroke-width="1.69" fill="none" />
<path d="M 699.7,731.6 C 702.7,731.8 705.7,733 708.0,735.6" stroke="#000" stroke-width="1.69" fill="none" />
<path d="M 678.2,740.5 C 677.7,746 677.2,751 676.0,756.5" stroke="#000" stroke-width="2.26" fill="none" />
<path d="M 685.4,739.5 C 682.7,744 681.2,749.5 680.0,755.5" stroke="#000" stroke-width="2.26" fill="none" />
<path d="M 616.7,739 C 616.2,731 621.2,727.3 627.7,727.3 C 634.2,727.3 637.7,733 640.7,741 C 643.2,748 645.7,755 652.2,760" stroke="#000" stroke-width="6.4" fill="none" />
<path d="M 619.8,738 V 747" stroke="#000" stroke-width="3.62" fill="none" />
<path d="M 644.2,753.2 H 680.7 L 675.2,762.6 H 651.7 Z" stroke="#000" stroke-width="1" fill="#000" />
<path d="M 659.2,756 H 673.2" stroke="#fff" stroke-width="1.2" fill="none" />
<path d="M 654.2,763 L 657.4,770 H 669.0 L 672.2,763 Z" stroke="#000" stroke-width="2.03" fill="#000" />
<path d="M 656.7,765.6 H 669.7" stroke="#fff" stroke-width="1.3" fill="none" />
<path d="M 658.2,768.6 H 668.2" stroke="#fff" stroke-width="1.3" fill="none" />
<path d="M 620.0,742 V 764" stroke="#000" stroke-width="2.94" fill="none" />
<polygon points="626.2,755.0 622.6,758.6 617.4,758.6 613.8,755.0 613.8,749.8 617.4,746.2 622.6,746.2 626.2,749.8" fill="#000" stroke="#000" stroke-width="1" stroke-linejoin="round"/>
<path d="M620.0,761.5 C621.0,769.4 629.8,778.1 629.8,788.4 C629.8,798.2 625.3,801.0 620.0,801.0 C614.7,801.0 610.2,798.2 610.2,788.4 C610.2,778.1 619.0,769.4 620.0,761.5 Z" stroke="#000" stroke-width="2.71" fill="#fff" />
<path d="M 705.0,742 V 764" stroke="#000" stroke-width="2.94" fill="none" />
<polygon points="711.2,755.0 707.6,758.6 702.4,758.6 698.8,755.0 698.8,749.8 702.4,746.2 707.6,746.2 711.2,749.8" fill="#000" stroke="#000" stroke-width="1" stroke-linejoin="round"/>
<path d="M705.0,761.5 C706.0,769.4 714.8,778.1 714.8,788.4 C714.8,798.2 710.3,801.0 705.0,801.0 C699.7,801.0 695.2,798.2 695.2,788.4 C695.2,778.1 704.0,769.4 705.0,761.5 Z" stroke="#000" stroke-width="2.71" fill="#fff" />
<path d="M409.4,413 L414.2,404.8 C420,403.3 430,403.3 436,404.6 C437.5,406 438.8,407.6 440.6,408.6 C446,405.6 455.5,407.3 457.8,413 C455.5,418 446,418.6 442,416.8 C439,415.8 436,414.9 433,414.6 C430,414.1 426,414 423,414 C418,414 413,414.8 409.4,413 Z" stroke="#000" stroke-width="1.2" fill="#000" />
<path d="M416,405.9 L423.5,405.6 L419.5,408.2 L414.9,408.5 Z" stroke="none" stroke-width="0" fill="#fff" />
<path d="M414.4,410.4 L420.3,410.1 L419.6,411.9 L414.6,412.1 Z" stroke="none" stroke-width="0" fill="#fff" />
<path d="M424.6,405.8 C429,405 434,405.5 437.3,408.1 C433,408.8 428,408.5 424.3,408.7 Z" stroke="none" stroke-width="0" fill="#fff" />
<path d="M425,410.6 C429,410.1 433,410.6 436.3,411.9 C432,412.4 428,412.4 425,412.1 Z" stroke="none" stroke-width="0" fill="#fff" />
<ellipse cx="448.4" cy="413" rx="6.2" ry="1.5" stroke="none" stroke-width="0" fill="#fff" />
<path d="M428,414.8 C432,416.3 434.6,419.6 436.2,424 C437.6,428.4 438.6,432 440.2,435" stroke="#000" stroke-width="2.49" fill="none" />
<path d="M437.6,416.2 C441,419 443,423 444,427 C444.6,429 445,430.6 445.2,432" stroke="#000" stroke-width="2.49" fill="none" />
<path d="M459.5,432 C466,430 470,424 473.5,416.5 C476.5,409.5 482,404.5 489.5,403.5 C496,403 501,407 501.5,412.5" stroke="#000" stroke-width="6.8" fill="none" />
<path d="M474,407 C477,403.5 481,402.2 486,401.6" stroke="#000" stroke-width="2.26" fill="none" />
<path d="M438.8,431.3 H460 V428 H475 V435 C475,437.5 472,438.8 470,438.8 H444 C441,438.8 438.8,437 438.8,435 Z" stroke="none" stroke-width="0" fill="#000" />
<clipPath id="bc455"><rect x="437.6" y="439.5" width="38.4" height="29.5"/></clipPath>
<g clip-path="url(#bc455)"><circle cx="456.8" cy="455" r="15.0" fill="#fff" stroke="#000" stroke-width="2.6"/><path d="M460.0,438.8 A16.2,16.2 0 0 1 460.0,471.2 Z" fill="#000" stroke="none"/></g>
<rect x="442" y="467.5" width="28.6" height="7.5" rx="2" stroke="none" stroke-width="0" fill="#000"/>
<path d="M443.3,475 C443.8,484 444,492 443.5,499 C442,515 438,532 434.5,550 C431,566 428.5,578 428.8,588 C429.2,600 433,610 440,619 C443,623 446,626 449,628" stroke="#000" stroke-width="3.16" fill="none" />
<path d="M441.5,512 C439,530 435.5,548 433.5,562 C431.5,576 431.5,590 434,600 C437,611 442,619 449,626.5" stroke="#000" stroke-width="2.03" fill="none" />
<path d="M456.3,475 V628" stroke="#000" stroke-width="3.16" fill="none" />
<path d="M466.5,475 C467,490 469,505 472,520 C475,536 478.5,552 481,566 C483,578 483,592 480,603 C477,613 471,621 464,628" stroke="#000" stroke-width="6.4" fill="none" />
<path d="M449.4,494.5 C447,520 443,545 441,566 C439.5,585 441,600 446,613 C448,618 450.5,622.5 452.5,626" stroke="#000" stroke-width="2.94" fill="none" />
<path d="M455.4,497 C452,520 449,545 447.5,566 C446.5,585 447.5,600 450.5,612 C451.5,617 453,622 454.5,626" stroke="#000" stroke-width="2.94" fill="none" />
<path d="M436.6,560 C435.5,578 436,594 440,606 C443,615 447,621 451,626" stroke="#000" stroke-width="1.81" fill="none" />
<rect x="446.5" y="625.3" width="16.5" height="5.2" rx="0" stroke="#000" stroke-width="1.6" fill="#fff"/>
<ellipse cx="456.6" cy="636.3" rx="14.2" ry="5.3" stroke="none" stroke-width="0" fill="#000" />
<path d="M370,472.5 C373,467 381,463.2 390,463.5 C401,463.8 410,468 414.5,478 C419,488 421.5,498 419,510 C416,524 407,538 398,553 C389,568 383.5,580 383.5,592 C383.5,606 390,620 405,630 C418,637.5 432,638.5 444,638" stroke="#000" stroke-width="4.07" fill="none" />
<path d="M543.5,472.5 C540.5,467 532.5,463.2 523.5,463.5 C512.5,463.8 503.5,468 499,478 C494.5,488 492,498 494.5,510 C497.5,524 506.5,538 515.5,553 C524.5,568 530,580 530,592 C530,606 523.5,620 508.5,630 C495.5,637.5 481.5,638.5 469.5,638" stroke="#000" stroke-width="4.07" fill="none" />
<path d="M361.9,464.8 L378.2,487.6" stroke="#000" stroke-width="5.2" fill="none" />
<ellipse cx="365.6" cy="479.6" rx="5" ry="3.5" transform="rotate(-42 365.6 479.6)" fill="#000" stroke="none"/>
<path d="M376.6,486.5 L375.5,496" stroke="#000" stroke-width="4.07" fill="none" />
<path d="M552.7,464.8 L536.4,487.6" stroke="#000" stroke-width="5.2" fill="none" />
<ellipse cx="549.0" cy="479.6" rx="5" ry="3.5" transform="rotate(42 549.0 479.6)" fill="#000" stroke="none"/>
<path d="M538.0,486.5 L539.1,496" stroke="#000" stroke-width="4.07" fill="none" />
<path d="M421.3,641.3 H492" stroke="#000" stroke-width="2.26" fill="none" />
<path d="M424,645.2 H456" stroke="#000" stroke-width="1.81" fill="none" />
<path d="M431.5,641.5 V645 M445.5,641.5 V645" stroke="#000" stroke-width="1.81" fill="none" />
<path d="M421.5,642 C422,646 425,648.5 430,650.5 C438,653.5 443,659 445.5,665 C446.3,667 446.8,668.5 447,670" stroke="#000" stroke-width="2.71" fill="none" />
<path d="M428,646 C436,648.5 443,653.5 446.5,661" stroke="#000" stroke-width="1.4" fill="none" />
<path d="M436.5,646 C443,650 448,656 450,667.5" stroke="#000" stroke-width="2.03" fill="none" />
<path d="M446,646 C450.5,651 453,658 453.8,667.5" stroke="#000" stroke-width="2.03" fill="none" />
<path d="M447,667.8 H457" stroke="#000" stroke-width="2.03" fill="none" />
<path d="M456.3,640 V668" stroke="#000" stroke-width="2.71" fill="none" />
<path d="M492.5,640.6 L489.5,647 C484.5,651.5 478,653.5 473,657 C468,660.8 465.2,666 464.4,673 L464.2,690" stroke="#000" stroke-width="8.2" fill="none" stroke-linecap="butt" stroke-linejoin="round"/>
<path d="M486,640.5 H495.5 L491.5,648 Z" stroke="none" stroke-width="0" fill="#000" />
<path d="M447,668.5 C449.5,673 450.5,680 450,689" stroke="#000" stroke-width="2.49" fill="none" />
<path d="M445,689.6 H460" stroke="#000" stroke-width="2.26" fill="none" />
<clipPath id="bc703"><rect x="437.8" y="689.5" width="37.6" height="27.5"/></clipPath>
<g clip-path="url(#bc703)"><circle cx="456.6" cy="703" r="14.600000000000001" fill="#fff" stroke="#000" stroke-width="2.6"/><path d="M459.8,687.2 A15.8,15.8 0 0 1 459.8,718.8 Z" fill="#000" stroke="none"/></g>
<path d="M439,693.5 C441.5,684 436,675 427,673.8 C417,672.8 410.5,682 411.3,695 C412.2,708 419,718.5 430,722.5 C436,724.5 441,725 446,725" stroke="#000" stroke-width="4.29" fill="none" />
<path d="M475,693.5 C472.5,684 478,675 487,673.8 C497,672.8 503.5,682 502.7,695 C501.8,708 495,718.5 484,722.5 C478,724.5 473,725 468,725" stroke="#000" stroke-width="4.29" fill="none" />
<circle cx="439.3" cy="693.5" r="1.6" stroke="none" stroke-width="0" fill="#000"/>
<circle cx="474.7" cy="693.5" r="1.6" stroke="none" stroke-width="0" fill="#000"/>
<path d="M407.5,682 V711" stroke="#000" stroke-width="3.62" fill="none" />
<ellipse cx="403.0" cy="696.3" rx="4.3" ry="3.1" stroke="none" stroke-width="0" fill="#000" />
<ellipse cx="407.1" cy="686" rx="2.2" ry="4.5" stroke="none" stroke-width="0" fill="#000" />
<ellipse cx="407.1" cy="706.5" rx="2.2" ry="4.5" stroke="none" stroke-width="0" fill="#000" />
<path d="M506.5,682 V711" stroke="#000" stroke-width="3.62" fill="none" />
<ellipse cx="511.0" cy="696.3" rx="4.3" ry="3.1" stroke="none" stroke-width="0" fill="#000" />
<ellipse cx="506.9" cy="686" rx="2.2" ry="4.5" stroke="none" stroke-width="0" fill="#000" />
<ellipse cx="506.9" cy="706.5" rx="2.2" ry="4.5" stroke="none" stroke-width="0" fill="#000" />
<path d="M442,717 C442,715.5 444,715 446,715 H468 C470,715 471.8,715.5 471.8,717 V729 C471.8,731 470.5,732.5 469,733 L471,736.5 L466.3,750 H449 L442.8,736.5 L444.5,733 C443,732.5 442,731 442,729 Z" stroke="none" stroke-width="0" fill="#000" />
<path d="M453.5,734.3 H460.5" stroke="#fff" stroke-width="1.4" fill="none" />
<rect x="451.3" y="744" width="13.4" height="3.6" rx="0" stroke="none" stroke-width="0" fill="#fff"/>
<rect x="380.8" y="767.4" width="151" height="21.6" rx="0" stroke="none" stroke-width="0" fill="#000"/>
<path d="M390,785.3 H524" stroke="#fff" stroke-width="1.1" fill="none" stroke-dasharray="4.6 6.4"/>
<path d="M440,775.3 H520" stroke="#666" stroke-width="1" fill="none" stroke-dasharray="1.5 9.5"/>
<path d="M384.1,790.0 L384.4,800.0 L385.0,810.0 L386.0,820.0 L388.0,832.5 L390.8,846.0 L394.4,860.0 L399.0,872.0 L405.4,885.0 L412.0,896.0 L420.2,907.5 L428.5,918.0 L438.0,928.5" stroke="#000" stroke-width="2.6" fill="none" />
<path d="M390.8,790.0 L391.1,800.0 L391.6,810.0 L392.5,820.0 L394.3,832.5 L396.9,846.0 L400.2,860.0 L404.3,872.0 L410.1,885.0 L416.1,896.0 L423.6,907.5 L431.1,918.0 L439.7,928.5" stroke="#000" stroke-width="2.37" fill="none" />
<path d="M407.5,790.0 L407.7,800.0 L408.1,810.0 L408.8,820.0 L410.1,832.5 L412.0,846.0 L414.5,860.0 L417.6,872.0 L422.0,885.0 L426.4,896.0 L432.0,907.5 L437.6,918.0 L444.1,928.5" stroke="#000" stroke-width="2.37" fill="none" />
<path d="M426.7,790.0 L426.8,800.0 L427.1,810.0 L427.5,820.0 L428.3,832.5 L429.5,846.0 L431.0,860.0 L432.9,872.0 L435.6,885.0 L438.3,896.0 L441.7,907.5 L445.2,918.0 L449.1,928.5" stroke="#000" stroke-width="2.37" fill="none" />
<path d="M446.7,790.0 L446.7,800.0 L446.8,810.0 L447.0,820.0 L447.3,832.5 L447.6,846.0 L448.2,860.0 L448.8,872.0 L449.7,885.0 L450.6,896.0 L451.8,907.5 L453.0,918.0 L454.3,928.5" stroke="#000" stroke-width="2.37" fill="none" />
<path d="M466.3,790.0 L466.3,800.0 L466.2,810.0 L466.1,820.0 L465.8,832.5 L465.4,846.0 L465.0,860.0 L464.4,872.0 L463.6,885.0 L462.7,896.0 L461.7,907.5 L460.6,918.0 L459.4,928.5" stroke="#000" stroke-width="2.37" fill="none" />
<path d="M486.7,790.0 L486.6,800.0 L486.3,810.0 L485.9,820.0 L485.1,832.5 L484.0,846.0 L482.5,860.0 L480.6,872.0 L478.0,885.0 L475.3,896.0 L472.0,907.5 L468.6,918.0 L464.7,928.5" stroke="#000" stroke-width="2.37" fill="none" />
<path d="M506.7,790.0 L506.5,800.0 L506.1,810.0 L505.4,820.0 L504.0,832.5 L502.1,846.0 L499.7,860.0 L496.5,872.0 L492.2,885.0 L487.7,896.0 L482.1,907.5 L476.4,918.0 L470.0,928.5" stroke="#000" stroke-width="2.37" fill="none" />
<path d="M522.5,790.0 L522.2,800.0 L521.7,810.0 L520.8,820.0 L519.0,832.5 L516.5,846.0 L513.2,860.0 L509.1,872.0 L503.4,885.0 L497.4,896.0 L490.1,907.5 L482.6,918.0 L474.1,928.5" stroke="#000" stroke-width="2.37" fill="none" />
<path d="M529.3,790.0 L529.0,800.0 L528.4,810.0 L527.4,820.0 L525.4,832.5 L522.7,846.0 L519.1,860.0 L514.5,872.0 L508.2,885.0 L501.6,896.0 L493.5,907.5 L485.3,918.0 L475.8,928.5" stroke="#000" stroke-width="2.6" fill="none" />
<path d="M390.8,795.5 C390.8,789 407.5,789 407.5,795.5" stroke="#000" stroke-width="2.26" fill="none" />
<path d="M407.5,795.5 C407.5,789 426.7,789 426.7,795.5" stroke="#000" stroke-width="2.26" fill="none" />
<path d="M426.7,795.5 C426.7,789 446.7,789 446.7,795.5" stroke="#000" stroke-width="2.26" fill="none" />
<path d="M446.7,795.5 C446.7,789 466.3,789 466.3,795.5" stroke="#000" stroke-width="2.26" fill="none" />
<path d="M466.3,795.5 C466.3,789 486.7,789 486.7,795.5" stroke="#000" stroke-width="2.26" fill="none" />
<path d="M486.7,795.5 C486.7,789 506.7,789 506.7,795.5" stroke="#000" stroke-width="2.26" fill="none" />
<path d="M506.7,795.5 C506.7,789 522.5,789 522.5,795.5" stroke="#000" stroke-width="2.26" fill="none" />
<path d="M405.3,789.5 L407.5,793.6 L409.7,789.5 Z" stroke="none" stroke-width="0" fill="#000" />
<path d="M424.5,789.5 L426.7,793.6 L428.9,789.5 Z" stroke="none" stroke-width="0" fill="#000" />
<path d="M444.5,789.5 L446.7,793.6 L448.9,789.5 Z" stroke="none" stroke-width="0" fill="#000" />
<path d="M464.1,789.5 L466.3,793.6 L468.5,789.5 Z" stroke="none" stroke-width="0" fill="#000" />
<path d="M484.5,789.5 L486.7,793.6 L488.9,789.5 Z" stroke="none" stroke-width="0" fill="#000" />
<path d="M504.5,789.5 L506.7,793.6 L508.9,789.5 Z" stroke="none" stroke-width="0" fill="#000" />
<path d="M438.3,929.5 C438.5,933.5 442,936 446,936 H468 C472,936 475.3,933.5 475.6,929.5 Z" stroke="#000" stroke-width="2.26" fill="#fff" />
<path d="M438.3,929.6 H475.6" stroke="#000" stroke-width="2.71" fill="none" />
<path d="M443,931.6 H471" stroke="#000" stroke-width="1" fill="none" />
<path d="M451.5,936.5 V945.5 M463,936.5 V945.5" stroke="#000" stroke-width="2.49" fill="none" />
<circle cx="457.1" cy="956.4" r="11.8" stroke="#000" stroke-width="2.3" fill="#fff"/>
<path d="M451.5,944.6 H463" stroke="#000" stroke-width="2.26" fill="none" />
<!--CH2-->
</g>
</svg>
</body></html>
